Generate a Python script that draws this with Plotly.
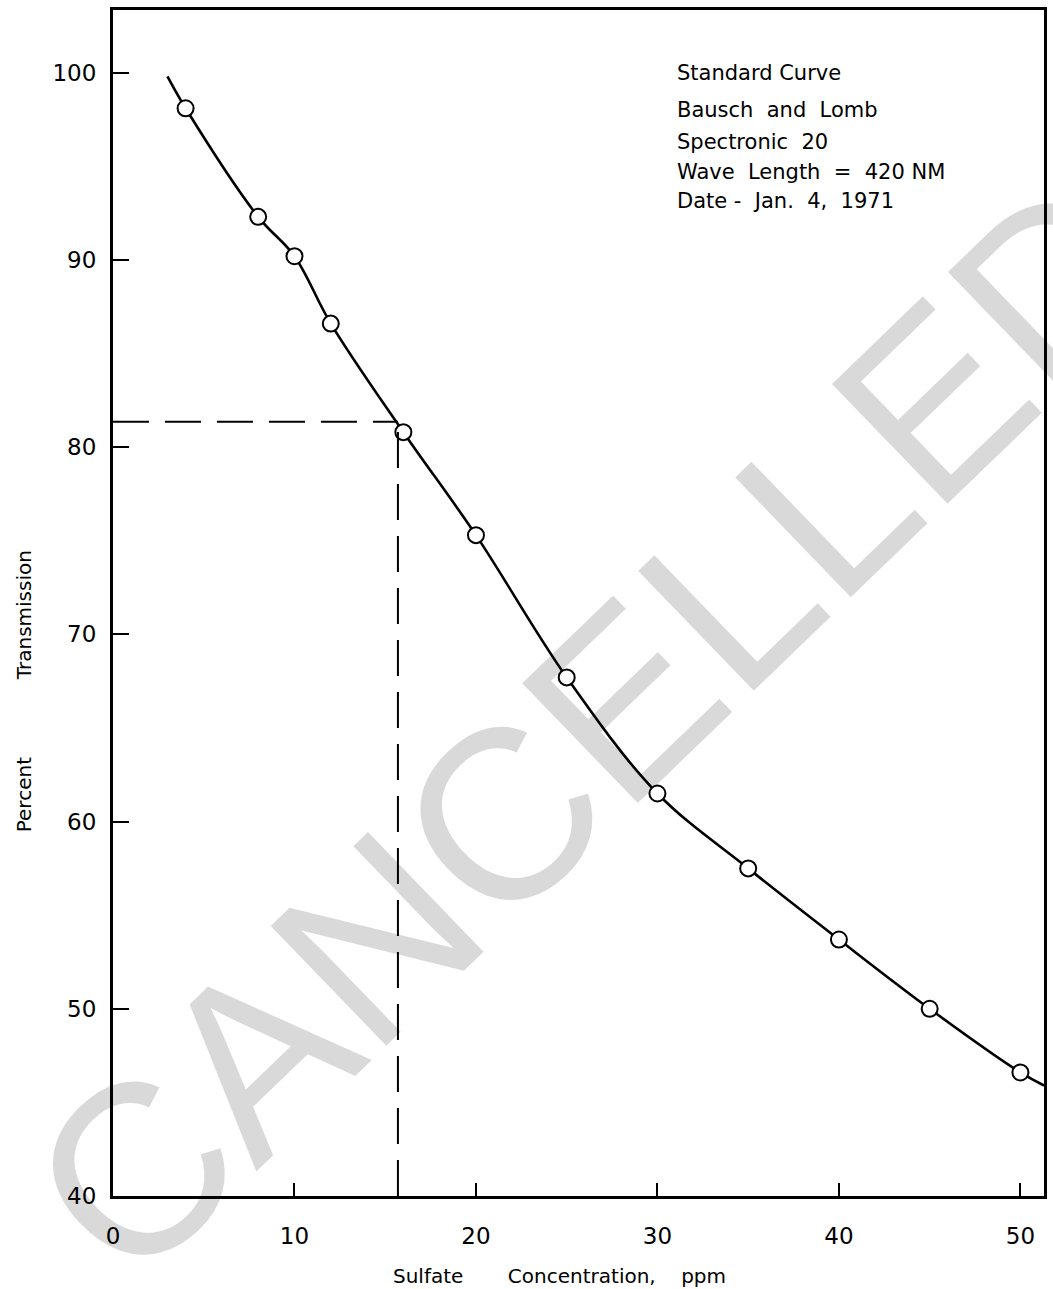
import plotly.graph_objects as go

# ---- data ----
conc_ppm = [4, 8, 10, 12, 16, 20, 25, 30, 35, 40, 45, 50]
pct_trans = [98.1, 92.3, 90.2, 86.6, 80.8, 75.3, 67.7, 61.5, 57.5, 53.7, 50.0, 46.6]
curve_start = (3.0, 99.8)
curve_end = (51.3, 45.9)
reading_trans = 81.35
reading_conc = 15.7
x_ticks = [0, 10, 20, 30, 40, 50]
y_ticks = [40, 50, 60, 70, 80, 90, 100]
NB = "\u00a0"
info_lines = [
    f"Standard{NB}Curve",
    f"Bausch{NB}{NB}and{NB}{NB}Lomb",
    f"Spectronic{NB}{NB}20",
    f"Wave{NB}{NB}Length{NB}{NB}={NB}{NB}420{NB}NM",
    f"Date{NB}-{NB}{NB}Jan.{NB}{NB}4,{NB}{NB}1971",
]
info_y_px = [73, 110, 142, 172, 201]
x_title = f"Sulfate{NB*7}Concentration,{NB*4}ppm"
y_title_parts = ["Percent", "Transmission"]
watermark = "CANCELLED"

W, H = 1053, 1289
L, R, T, B = 113, 6, 10, 93
X_MAX = 51.3
Y_MIN, Y_MAX = 40, 103.35

FONT = "DejaVu Sans"

curve_x = [curve_start[0]] + conc_ppm + [curve_end[0]]
curve_y = [curve_start[1]] + pct_trans + [curve_end[1]]

fig = go.Figure()
fig.add_trace(go.Scatter(x=curve_x, y=curve_y, mode="lines",
                         line=dict(color="black", width=2.6, shape="spline", smoothing=1.0),
                         hoverinfo="skip", showlegend=False))
fig.add_trace(go.Scatter(x=conc_ppm, y=pct_trans, mode="markers",
                         marker=dict(symbol="circle", size=16, color="white",
                                     line=dict(color="black", width=2)),
                         showlegend=False))

# dashed reading lines
fig.add_shape(type="line", x0=0, x1=reading_conc, y0=reading_trans, y1=reading_trans,
              xref="x", yref="y", line=dict(color="black", width=2, dash="36px,16px"))
fig.add_shape(type="line", x0=reading_conc, x1=reading_conc, y0=Y_MIN, y1=reading_trans,
              xref="x", yref="y", line=dict(color="black", width=2, dash="36px,16px"))

pw = W - L - R
ph = H - T - B

def px_to_paper_x(px):
    return (px - L) / pw

def px_to_paper_y(py):
    return (H - B - py) / ph

for txt, ypx in zip(info_lines, info_y_px):
    fig.add_annotation(text=txt, x=px_to_paper_x(677), y=px_to_paper_y(ypx),
                       xref="paper", yref="paper", xanchor="left", yanchor="middle",
                       showarrow=False, font=dict(family=FONT, size=21, color="black"))

fig.add_annotation(text=x_title, x=px_to_paper_x(561), y=px_to_paper_y(1276),
                   xref="paper", yref="paper", xanchor="center", yanchor="middle",
                   showarrow=False, font=dict(family=FONT, size=20, color="black"))
fig.add_annotation(text=y_title_parts[0], x=px_to_paper_x(24), y=px_to_paper_y(795),
                   xref="paper", yref="paper", xanchor="center", yanchor="middle",
                   textangle=-90, showarrow=False, font=dict(family=FONT, size=20, color="black"))
fig.add_annotation(text=y_title_parts[1], x=px_to_paper_x(24), y=px_to_paper_y(615),
                   xref="paper", yref="paper", xanchor="center", yanchor="middle",
                   textangle=-90, showarrow=False, font=dict(family=FONT, size=20, color="black"))

fig.add_annotation(text=watermark, x=px_to_paper_x(596), y=px_to_paper_y(728),
                   xref="paper", yref="paper", xanchor="center", yanchor="middle",
                   textangle=-44, showarrow=False,
                   font=dict(family="Liberation Sans", size=242, color="rgba(0,0,0,0.15)"))

axis_common = dict(showgrid=False, zeroline=False, showline=True, linecolor="black",
                   linewidth=3, mirror=True, ticks="inside", tickcolor="black",
                   tickwidth=2, tickfont=dict(family=FONT, size=23, color="black"))
fig.update_xaxes(range=[0, X_MAX], tickvals=x_ticks, ticktext=[str(v) for v in x_ticks],
                 ticklen=13, ticklabelstandoff=17, **axis_common)
fig.update_yaxes(range=[Y_MIN, Y_MAX], tickvals=y_ticks, ticktext=[str(v) for v in y_ticks],
                 ticklen=16, ticklabelstandoff=9, **axis_common)

fig.update_layout(width=W, height=H, autosize=False,
                  margin=dict(l=L, r=R, t=T, b=B, pad=0),
                  paper_bgcolor="white", plot_bgcolor="white", showlegend=False)

fig.write_html("out.html", config={"displayModeBar": False},
               post_script="document.body.style.margin='0';document.body.style.overflow='hidden';")
